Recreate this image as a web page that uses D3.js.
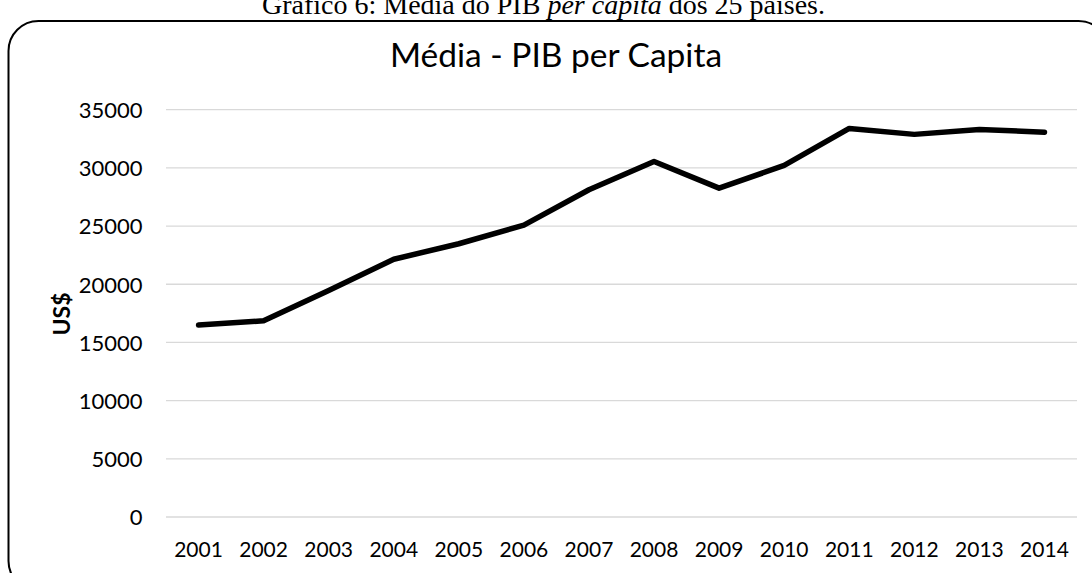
<!DOCTYPE html>
<html>
<head>
<meta charset="utf-8">
<script src="https://cdn.jsdelivr.net/npm/d3@7/dist/d3.min.js"></script>
<style>
  html, body { margin: 0; padding: 0; background: #fff; overflow: hidden; }
  svg { display: block; }
</style>
</head>
<body>
<svg id="chart" width="1092" height="573"></svg>
<script>
// Average GDP per capita (US$) of the 25 countries, 2001–2014
const years = ["2001","2002","2003","2004","2005","2006","2007","2008","2009","2010","2011","2012","2013","2014"];
const gdpPerCapita = [16490, 16860, 19460, 22150, 23480, 25080, 28120, 30550, 28260, 30210, 33390, 32880, 33300, 33070];
const yTicks = [0, 5000, 10000, 15000, 20000, 25000, 30000, 35000];

const caption = "Gráfico 6: Média do PIB ";
const captionItalic = "per capita";
const captionEnd = " dos 25 países.";
const chartTitle = "Média - PIB per Capita";
const yAxisTitle = "US$";

const svg = d3.select("#chart");
const plot = { left: 166, right: 1077, top: 109.7, bottom: 517 };
const uiFont = "Lato, 'Open Sans', sans-serif";

// caption above the chart frame
const cap = svg.append("text")
  .attr("x", 543.5).attr("y", 13.5)
  .attr("text-anchor", "middle")
  .style("font-family", "'Liberation Serif', 'Times New Roman', serif")
  .style("font-size", "28px")
  .attr("fill", "#000");
cap.append("tspan").text(caption);
cap.append("tspan").style("font-style", "italic").text(captionItalic);
cap.append("tspan").text(captionEnd);

// rounded chart frame (runs past the right and bottom edges)
svg.append("rect")
  .attr("x", 8.5).attr("y", 21)
  .attr("width", 1100).attr("height", 570)
  .attr("rx", 30).attr("ry", 30)
  .attr("fill", "none")
  .attr("stroke", "#000")
  .attr("stroke-width", 2);

const x = d3.scaleBand().domain(years).range([plot.left, plot.right]).padding(0);
const y = d3.scaleLinear().domain([0, 35000]).range([plot.bottom, plot.top]);

// horizontal gridlines
svg.append("g")
  .selectAll("line")
  .data(yTicks)
  .join("line")
  .attr("x1", plot.left).attr("x2", plot.right)
  .attr("y1", d => y(d)).attr("y2", d => y(d))
  .attr("stroke", "#d9d9d9")
  .attr("stroke-width", 1.3);

// y axis tick labels
const yAxis = d3.axisLeft(y).tickValues(yTicks).tickSize(0).tickPadding(0).tickFormat(d3.format("d"));
svg.append("g")
  .attr("transform", `translate(${142.5},0)`)
  .call(yAxis)
  .call(g => g.select(".domain").remove())
  .call(g => g.selectAll("text")
    .attr("x", 0)
    .attr("dy", "0.36em")
    .style("font-family", uiFont)
    .style("font-size", "22px")
    .attr("fill", "#000"));

// x axis category labels
const xAxis = d3.axisBottom(x).tickSize(0).tickPadding(0);
svg.append("g")
  .attr("transform", `translate(0,${plot.bottom})`)
  .call(xAxis)
  .call(g => g.select(".domain").remove())
  .call(g => g.selectAll("text")
    .attr("y", 40)
    .attr("dy", 0)
    .style("font-family", uiFont)
    .style("font-size", "21px")
    .attr("fill", "#000"));

// data line
const line = d3.line()
  .x((d, i) => x(years[i]) + x.bandwidth() / 2)
  .y(d => y(d));
svg.append("path")
  .datum(gdpPerCapita)
  .attr("d", line)
  .attr("fill", "none")
  .attr("stroke", "#000")
  .attr("stroke-width", 5.5)
  .attr("stroke-linejoin", "round")
  .attr("stroke-linecap", "round");

// chart title
svg.append("text")
  .attr("x", 556).attr("y", 67)
  .attr("text-anchor", "middle")
  .style("font-family", uiFont)
  .style("font-size", "33.5px")
  .attr("fill", "#000")
  .text(chartTitle);

// y axis title
svg.append("text")
  .attr("transform", "translate(70,314) rotate(-90)")
  .attr("text-anchor", "middle")
  .style("font-family", uiFont)
  .style("font-size", "23px")
  .style("font-weight", "bold")
  .attr("fill", "#000")
  .text(yAxisTitle);
</script>
</body>
</html>
